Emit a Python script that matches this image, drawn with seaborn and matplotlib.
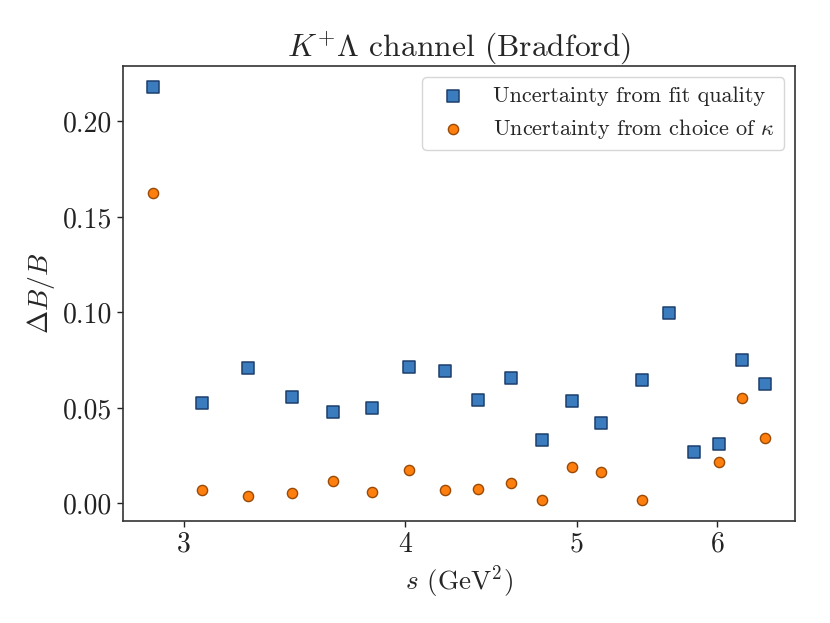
"""Relative uncertainty of the Bradford K+Lambda fit vs s."""

import numpy as np
import pandas as pd
import matplotlib
matplotlib.use("Agg")
import matplotlib.pyplot as plt
import matplotlib.ticker as mticker
import seaborn as sns

# values
s_vals = [2.885, 3.073, 3.262, 3.453, 3.642, 3.831, 4.022, 4.213, 4.399, 4.592,
          4.778, 4.968, 5.157, 5.443, 5.632, 5.818, 6.012, 6.192, 6.379]
fit_unc = [0.2182, 0.0526, 0.0711, 0.0559, 0.0479, 0.0500, 0.0714, 0.0691, 0.0540, 0.0656,
           0.0334, 0.0536, 0.0423, 0.0644, 0.0998, 0.0268, 0.0313, 0.0749, 0.0623]
kappa_unc = [0.1623, 0.0071, 0.0040, 0.0055, 0.0115, 0.0059, 0.0176, 0.0069, 0.0073, 0.0106,
             0.0017, 0.0191, 0.0165, 0.0019, np.nan, np.nan, 0.0216, 0.0554, 0.0343]
x_ticks = [3, 4, 5, 6]

df = pd.DataFrame({"s": s_vals, "fit": fit_unc, "kappa": kappa_unc})

sns.set_theme(style="ticks")
plt.rcParams["font.family"] = ["cmr10", "DejaVu Serif"]
plt.rcParams["mathtext.fontset"] = "cm"
plt.rcParams["axes.formatter.use_mathtext"] = True
plt.rcParams["axes.edgecolor"] = "#333333"

fig, ax = plt.subplots(figsize=(8.3, 6.23), dpi=100)
fig.subplots_adjust(left=0.148, right=0.958, top=0.894, bottom=0.164)

sns.scatterplot(data=df, x="s", y="fit", marker="s", s=66, color="#3a7cbd",
                edgecolor="#1c3f6e", linewidth=1.1,
                label="Uncertainty from fit quality", ax=ax)
sns.scatterplot(data=df.dropna(), x="s", y="kappa", marker="o", s=54, color="#ff7f0e",
                edgecolor="#9a4a05", linewidth=1.0,
                label=r"Uncertainty from choice of $\kappa$", ax=ax)

ax.set_xscale("log")
ax.xaxis.set_major_locator(mticker.FixedLocator(x_ticks))
ax.xaxis.set_major_formatter(mticker.FixedFormatter([str(t) for t in x_ticks]))
ax.xaxis.set_minor_locator(mticker.NullLocator())
ax.yaxis.set_major_formatter(mticker.FormatStrFormatter("%.2f"))

ax.tick_params(labelsize=20, length=4, width=1.0, colors="#222222")
for sp in ax.spines.values():
    sp.set_linewidth(1.2)

ax.set_xlabel(r"$s$ (GeV$^2$)", fontsize=19.5)
ax.set_ylabel(r"$\Delta B/B$", fontsize=20)
ax.set_title(r"$K^{+}\Lambda$ channel (Bradford)", fontsize=22.7)
ax.legend(loc="upper right", fontsize=16, frameon=True)

fig.savefig("out.png", dpi=100)
